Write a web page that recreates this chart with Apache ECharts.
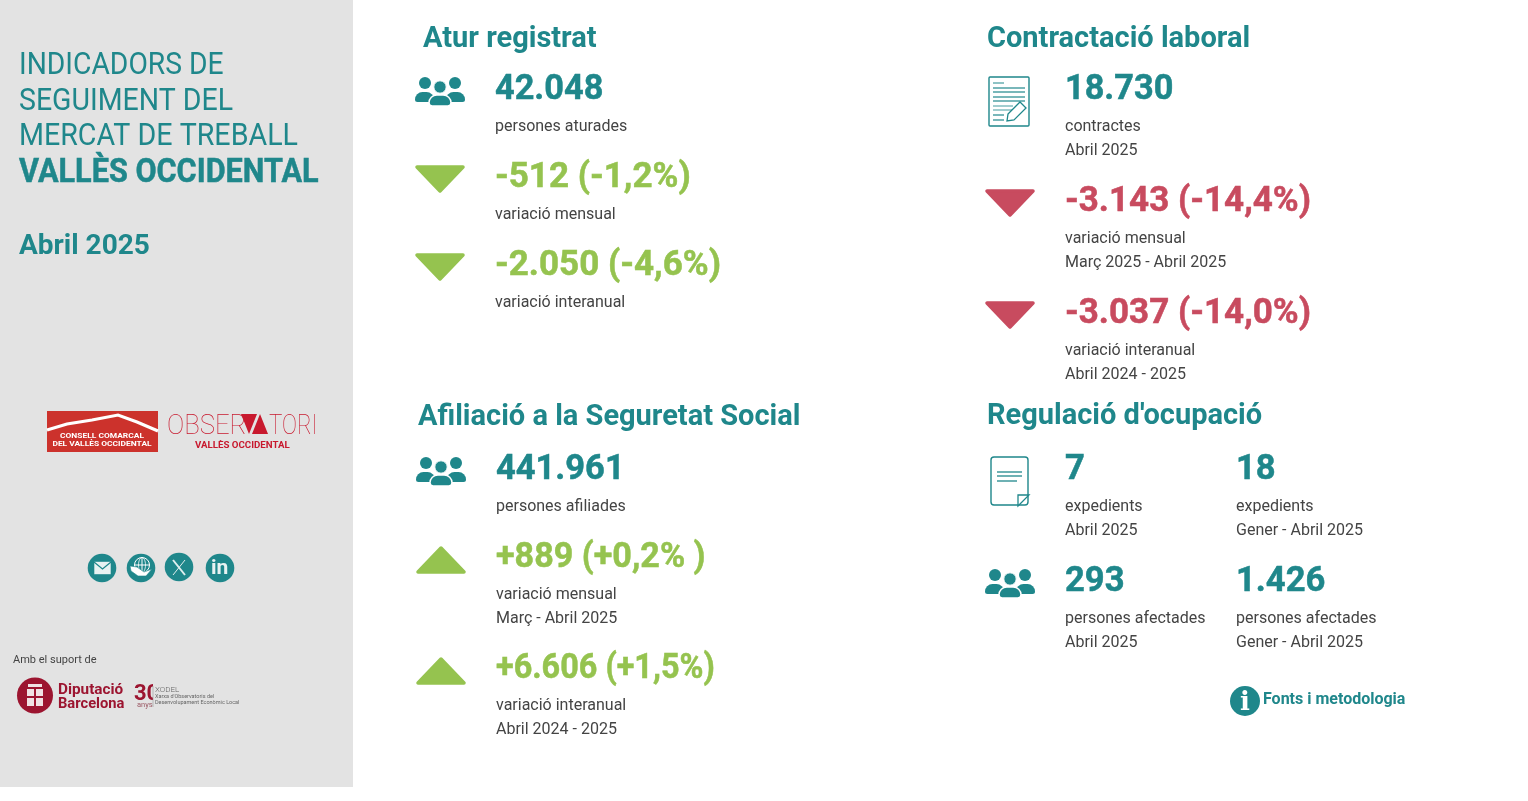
<!DOCTYPE html>
<html>
<head>
<meta charset="utf-8">
<title>Indicadors de seguiment del mercat de treball</title>
<script src="https://cdn.jsdelivr.net/npm/echarts@6/dist/echarts.min.js"></script>
<style>
  html, body { margin: 0; padding: 0; background: #fff; }
  #main { width: 1528px; height: 801px; }
</style>
</head>
<body>
<div id="main"></div>
<script>
// texts and figures
const sideTitle = ['INDICADORS DE', 'SEGUIMENT DEL', 'MERCAT DE TREBALL'];
const sideArea = 'VALLÈS OCCIDENTAL';
const sidePeriod = 'Abril 2025';
const supportLabel = 'Amb el suport de';

const aturTitle = 'Atur registrat';
const aturValues = ['42.048', '-512 (-1,2%)', '-2.050 (-4,6%)'];
const aturLabels = [['persones aturades'], ['variació mensual'], ['variació interanual']];

const contractTitle = 'Contractació laboral';
const contractValues = ['18.730', '-3.143 (-14,4%)', '-3.037 (-14,0%)'];
const contractLabels = [
  ['contractes', 'Abril 2025'],
  ['variació mensual', 'Març 2025 - Abril 2025'],
  ['variació interanual', 'Abril 2024 - 2025']
];

const afilTitle = 'Afiliació a la Seguretat Social';
const afilValues = ['441.961', '+889 (+0,2% )', '+6.606 (+1,5%)'];
const afilLabels = [
  ['persones afiliades'],
  ['variació mensual', 'Març - Abril 2025'],
  ['variació interanual', 'Abril 2024 - 2025']
];

const regTitle = "Regulació d'ocupació";
const regValues = ['7', '18', '293', '1.426'];
const regLabels = [
  ['expedients', 'Abril 2025'],
  ['expedients', 'Gener - Abril 2025'],
  ['persones afectades', 'Abril 2025'],
  ['persones afectades', 'Gener - Abril 2025']
];
const sourcesLabel = 'Fonts i metodologia';

const TEAL = '#1f878b';
const GREEN = '#95c34f';
const ROSE = '#c84b5f';
const GREY = '#444444';
const LOGO_RED = '#c8192e';
const FONT = 'Roboto, sans-serif';

let els = [];

// y is the visual centre of the caps, the font sits a bit high with middle
function txt(x, y, text, size, color, weight, opt) {
  opt = opt || {};
  els.push({
    type: 'text',
    x: x,
    y: y + size * 0.09,
    scaleX: opt.scaleX || 1,
    style: {
      text: text,
      fontFamily: opt.family || FONT,
      fontSize: size,
      fontWeight: weight || 400,
      fill: color,
      stroke: opt.heavy ? color : null,
      lineWidth: opt.heavy || 0,
      textAlign: opt.align || 'left',
      textVerticalAlign: 'middle'
    }
  });
}
function rect(x, y, w, h, style, r) {
  els.push({type: 'rect', shape: {x: x, y: y, width: w, height: h, r: r || 0}, style: style});
}
function circle(cx, cy, r, style) {
  els.push({type: 'circle', shape: {cx: cx, cy: cy, r: r}, style: style});
}
function line(x1, y1, x2, y2, color, width) {
  els.push({type: 'line', shape: {x1: x1, y1: y1, x2: x2, y2: y2}, style: {stroke: color, lineWidth: width || 1}});
}
function poly(points, style) {
  els.push({type: 'polygon', shape: {points: points}, style: style});
}

function people(x, y) {
  const fill = {fill: TEAL};
  circle(x + 10, y + 6, 6, fill);
  circle(x + 40, y + 6, 6, fill);
  rect(x, y + 15, 19, 10, fill, [9, 9, 3, 3]);
  rect(x + 31, y + 15, 19, 10, fill, [9, 9, 3, 3]);
  circle(x + 25, y + 10, 6.2, {fill: TEAL, stroke: '#fff', lineWidth: 1});
  rect(x + 14, y + 18, 22, 11, {fill: TEAL, stroke: '#fff', lineWidth: 1.5}, [10, 10, 4, 4]);
}
function arrowDown(x, y, color) {
  poly([[x + 2, y + 2], [x + 48, y + 2], [x + 25, y + 26]], {fill: color, stroke: color, lineWidth: 3.5, lineJoin: 'round'});
}
function arrowUp(x, y, color) {
  poly([[x + 2, y + 26], [x + 48, y + 26], [x + 25, y + 2]], {fill: color, stroke: color, lineWidth: 3.5, lineJoin: 'round'});
}
function contractIcon(x, y) {
  rect(x, y, 40, 49, {fill: 'none', stroke: TEAL, lineWidth: 1.4}, 1);
  line(x + 4, y + 6, x + 15, y + 6, TEAL, 1);
  [11, 15, 20, 24].forEach(function (d) { line(x + 4, y + d, x + 36, y + d, TEAL, 1.2); });
  [29, 33].forEach(function (d) { line(x + 4, y + d, x + 24, y + d, '#62acaf', 1.2); });
  [38, 43].forEach(function (d) { line(x + 4, y + d, x + 15, y + d, TEAL, 1.2); });
  poly([[x + 19, y + 37], [x + 31, y + 25], [x + 37, y + 31], [x + 25, y + 43], [x + 18, y + 44]], {fill: '#fff', stroke: TEAL, lineWidth: 1.3});
}
function docIcon(x, y) {
  rect(x, y, 37, 48, {fill: 'none', stroke: TEAL, lineWidth: 1.4}, 3);
  [15, 19, 24].forEach(function (d, i) { line(x + 6, y + d, x + (i === 2 ? 26 : 31), y + d, TEAL, 1.3); });
  poly([[x + 27, y + 49], [x + 38, y + 38], [x + 27, y + 38]], {fill: '#fff', stroke: TEAL, lineWidth: 1.3});
}

function block(x, title, titleX, titleY, values, labels, ys, colors, widthScale) {
  txt(titleX, titleY, title, 29, TEAL, 700);
  values.forEach(function (v, i) {
    txt(x, ys[i], v, 35, colors[i], 700, {heavy: 0.5, scaleX: widthScale[i]});
    labels[i].forEach(function (l, j) {
      txt(x, ys[i] + 38.5 + j * 24, l, 16, GREY, 400);
    });
  });
}

// side panel
rect(0, 0, 353, 787, {fill: '#e3e3e3'});
sideTitle.forEach(function (t, i) {
  txt(19, [63, 99, 134][i], t, 31, TEAL, 400, {scaleX: [0.911, 0.919, 0.923][i]});
});
txt(19, 171, sideArea, 33, TEAL, 700, {scaleX: 0.929, heavy: 0.5});
txt(19, 244, sidePeriod, 28, TEAL, 700);

// consell logo
rect(47, 411, 111, 41, {fill: '#cc322c'});
els.push({type: 'polyline', shape: {points: [[47, 430], [67, 424], [92, 420], [118, 415], [137, 422], [158, 431]]}, style: {fill: 'none', stroke: '#fff', lineWidth: 3}});
txt(102, 435.5, 'CONSELL COMARCAL', 7.4, '#fff', 700, {align: 'center', scaleX: 1.14});
txt(102, 443.5, 'DEL VALLÈS OCCIDENTAL', 7.4, '#fff', 700, {align: 'center', scaleX: 1.14});

// observatori logo
txt(167, 424, 'OBSER', 28, LOGO_RED, 100, {scaleX: 0.92});
poly([[241, 414], [257, 414], [249, 434]], {fill: LOGO_RED});
poly([[252, 434], [268, 434], [260, 414]], {fill: LOGO_RED});
txt(269, 424, 'TORI', 28, LOGO_RED, 100, {scaleX: 0.8});
txt(195, 445, 'VALLÈS OCCIDENTAL', 9.7, LOGO_RED, 700);

// social icons
[[102, 568], [141, 568], [179, 567], [220, 568]].forEach(function (c) {
  circle(c[0], c[1], 14.3, {fill: TEAL});
});
rect(94, 561.5, 17, 13, {fill: '#e8f2f2', stroke: TEAL, lineWidth: 0.6});
els.push({type: 'polyline', shape: {points: [[94, 562], [102.5, 569], [111, 562]]}, style: {fill: 'none', stroke: TEAL, lineWidth: 1.2}});
circle(142, 565, 7.5, {fill: 'none', stroke: '#fff', lineWidth: 1});
line(142, 557.5, 142, 572, '#fff', 1);
line(134.5, 565, 149.5, 565, '#fff', 1);
els.push({type: 'ellipse', shape: {cx: 142, cy: 565, rx: 3.5, ry: 7.5}, style: {fill: 'none', stroke: '#fff', lineWidth: 0.8}});
poly([[130, 566], [137, 567], [144, 572], [152, 569], [146, 576], [138, 576], [131, 571]], {fill: '#fff', stroke: TEAL, lineWidth: 0.6});
line(173, 560, 185, 575, '#dfeeee', 2);
line(185, 560, 173, 575, '#dfeeee', 1);
txt(211, 567, 'in', 21, '#e8f2f2', 700);

// support logos
txt(13, 659, supportLabel, 11, GREY, 400);
circle(35, 695.5, 18, {fill: '#9c1530'});
rect(27, 689, 16, 17, {fill: '#f0e2e4'});
rect(34, 689, 2, 17, {fill: '#9c1530'});
rect(27, 696, 16, 2, {fill: '#9c1530'});
rect(28, 684, 14, 3, {fill: '#f0e2e4'});
txt(58, 689, 'Diputació', 15.3, '#9c1530', 700);
txt(58, 703, 'Barcelona', 14.7, '#9c1530', 700);
txt(134, 693, '30', 22, '#9c1530', 700);
rect(153, 680, 8, 24, {fill: '#e3e3e3'});
txt(137, 704, 'anys', 7.5, '#9c5a66', 400);
line(153, 686, 153, 707, '#999', 0.6);
txt(155, 689, 'XODEL', 8, '#666', 300);
txt(155, 696, "Xarxa d'Observatoris del", 5.5, '#666', 400);
txt(155, 702, 'Desenvolupament Econòmic Local', 5.5, '#666', 400);

// main blocks
block(495, aturTitle, 423, 37, aturValues, aturLabels, [87, 175, 263], [TEAL, GREEN, GREEN], [0.98, 1, 1]);
people(415, 77);
arrowDown(415, 165, GREEN);
arrowDown(415, 253, GREEN);

block(1065, contractTitle, 987, 37, contractValues, contractLabels, [87, 199, 311], [TEAL, ROSE, ROSE], [0.98, 1, 1]);
contractIcon(989, 77);
arrowDown(985, 189, ROSE);
arrowDown(985, 301, ROSE);

block(496, afilTitle, 418, 415, afilValues, afilLabels, [467, 555, 666], [TEAL, GREEN, GREEN], [0.985, 0.975, 0.925]);
people(416, 457);
arrowUp(416, 546, GREEN);
arrowUp(416, 657, GREEN);

txt(987, 414, regTitle, 29, TEAL, 700);
regValues.forEach(function (v, i) {
  const x = i % 2 === 0 ? 1065 : 1236;
  const y = i < 2 ? 467 : 579;
  txt(x, y, v, 34.6, TEAL, 700, {heavy: 0.5});
  regLabels[i].forEach(function (l, j) {
    txt(x, y + 38.5 + j * 24, l, 16, GREY, 400);
  });
});
docIcon(991, 457);
people(985, 569);

// fonts i metodologia
circle(1245, 701, 15, {fill: TEAL});
txt(1245, 701, 'i', 26, '#fff', 700, {family: 'DejaVu Serif', align: 'center'});
txt(1263, 699, sourcesLabel, 16, TEAL, 700);

let chart = echarts.init(document.getElementById('main'), null, {renderer: 'canvas'});
chart.setOption({
  animation: false,
  backgroundColor: '#fff',
  graphic: {elements: els}
});
</script>
</body>
</html>
